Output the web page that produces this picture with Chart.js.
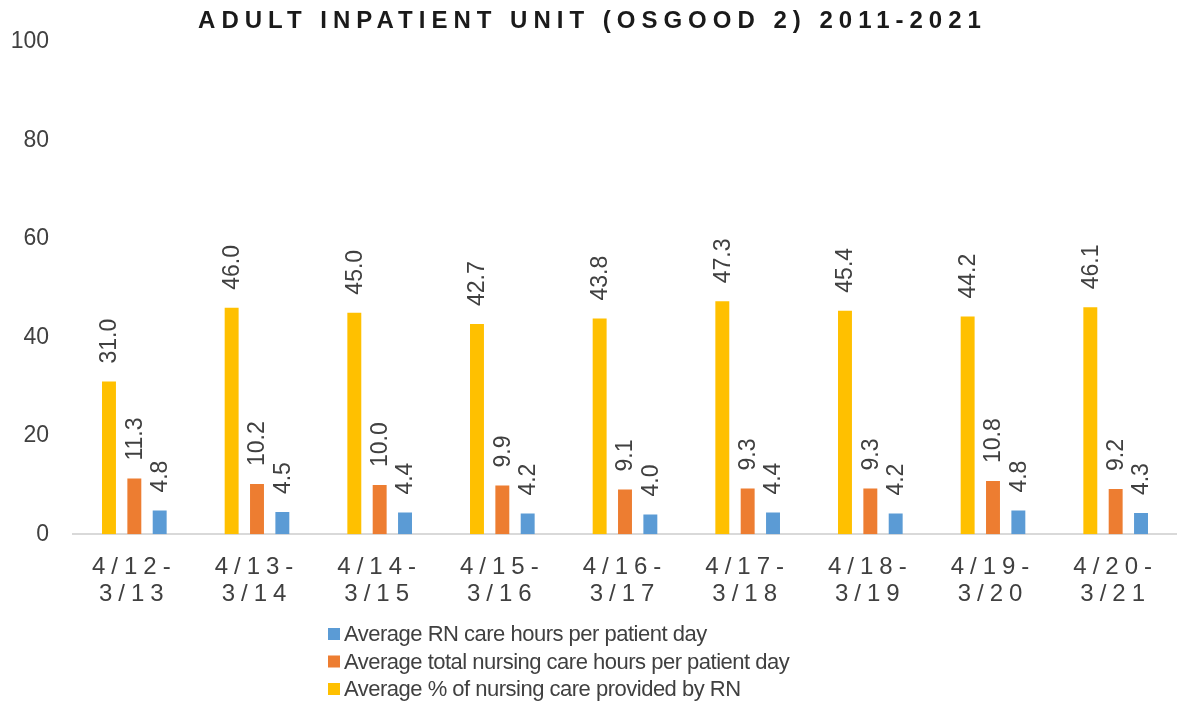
<!DOCTYPE html>
<html lang="en">
<head>
    <meta charset="UTF-8">
    <title>Adult Inpatient Unit (Osgood 2) 2011-2021</title>
    <style>
        body {
            margin: 0;
            background: #ffffff;
        }
        #wrap {
            width: 1177px;
            height: 707px;
        }
    </style>
    <script src="https://cdn.jsdelivr.net/npm/chart.js"></script>
</head>
<body>
    <div id="wrap">
        <canvas id="chart" width="1177" height="707"></canvas>
    </div>

    <script>
        // data
        const periods = [
            ['4/12-', '3/13'], ['4/13-', '3/14'], ['4/14-', '3/15'],
            ['4/15-', '3/16'], ['4/16-', '3/17'], ['4/17-', '3/18'],
            ['4/18-', '3/19'], ['4/19-', '3/20'], ['4/20-', '3/21']
        ];
        const pctByRN = [31.0, 46.0, 45.0, 42.7, 43.8, 47.3, 45.4, 44.2, 46.1];
        const totalHours = [11.3, 10.2, 10.0, 9.9, 9.1, 9.3, 9.3, 10.8, 9.2];
        const rnHours = [4.8, 4.5, 4.4, 4.2, 4.0, 4.4, 4.2, 4.8, 4.3];
        const yTicks = [0, 20, 40, 60, 80, 100];

        const textColor = '#404040';

        // value labels, turned upright above each bar
        const valueLabels = {
            id: 'valueLabels',
            afterDatasetsDraw(chart) {
                const ctx = chart.ctx;
                ctx.save();
                ctx.font = '23px "Liberation Sans", Arial, sans-serif';
                ctx.fillStyle = textColor;
                ctx.textAlign = 'left';
                ctx.textBaseline = 'middle';
                chart.data.datasets.forEach((ds, i) => {
                    chart.getDatasetMeta(i).data.forEach((bar, j) => {
                        ctx.save();
                        ctx.translate(bar.x + 1, bar.y - 18);
                        ctx.rotate(-Math.PI / 2);
                        ctx.fillText(ds.data[j].toFixed(1), 0, 0);
                        ctx.restore();
                    });
                });
                ctx.restore();
            }
        };

        // spaced-out lettering for the title and the period labels
        const spacing = {
            id: 'spacing',
            afterLayout(chart) {
                const sc = chart.scales.x;
                if (!sc._spaced) {
                    const orig = sc.drawLabels.bind(sc);
                    sc.drawLabels = function (area) {
                        this.ctx.save();
                        this.ctx.letterSpacing = '6px';
                        orig(area);
                        this.ctx.restore();
                    };
                    sc._spaced = true;
                }
                const tb = chart.titleBlock;
                if (tb && !tb._spaced) {
                    const origT = tb.draw.bind(tb);
                    tb.draw = function () {
                        this.ctx.save();
                        this.ctx.letterSpacing = '6px';
                        origT();
                        this.ctx.restore();
                    };
                    tb._spaced = true;
                }
            }
        };

        // legend stacked in one column under the chart, in reverse order
        const stackedLegend = {
            id: 'stackedLegend',
            afterDraw(chart) {
                const ctx = chart.ctx;
                const x = 328;
                let y = 634;
                ctx.save();
                ctx.font = '22px "Liberation Sans", Arial, sans-serif';
                ctx.letterSpacing = '-0.5px';
                ctx.textBaseline = 'middle';
                ctx.textAlign = 'left';
                chart.data.datasets.slice().reverse().forEach(ds => {
                    ctx.fillStyle = ds.backgroundColor;
                    ctx.fillRect(x, y - 6, 12, 12);
                    ctx.fillStyle = textColor;
                    ctx.fillText(ds.label, x + 16, y + 1);
                    y += 27.5;
                });
                ctx.restore();
            }
        };

        new Chart(document.getElementById('chart'), {
            type: 'bar',
            data: {
                labels: periods,
                datasets: [
                    {
                        label: 'Average % of nursing care provided by RN',
                        data: pctByRN,
                        backgroundColor: '#FFC000'
                    },
                    {
                        label: 'Average total nursing care hours per patient day',
                        data: totalHours,
                        backgroundColor: '#ED7D31'
                    },
                    {
                        label: 'Average RN care hours per patient day',
                        data: rnHours,
                        backgroundColor: '#5B9BD5'
                    }
                ]
            },
            options: {
                responsive: false,
                animation: false,
                datasets: {
                    bar: {
                        categoryPercentage: 0.62,
                        barPercentage: 0.55
                    }
                },
                layout: {
                    padding: { left: 8, right: 0, top: 0, bottom: 87 }
                },
                plugins: {
                    legend: { display: false },
                    tooltip: { enabled: false },
                    title: {
                        display: true,
                        text: 'ADULT INPATIENT UNIT (OSGOOD 2) 2011-2021',
                        color: '#1a1a1a',
                        font: { family: '"Liberation Sans", Arial, sans-serif', size: 24, weight: 'bold' },
                        padding: { top: 7, bottom: 6 }
                    }
                },
                scales: {
                    x: {
                        grid: { display: false },
                        border: { color: '#D9D9D9', width: 2 },
                        ticks: {
                            color: textColor,
                            maxRotation: 0,
                            padding: 12,
                            font: { family: '"Liberation Sans", Arial, sans-serif', size: 24, lineHeight: 1.12 }
                        }
                    },
                    y: {
                        min: 0,
                        max: 100,
                        afterBuildTicks(scale) {
                            scale.ticks = yTicks.map(v => ({ value: v }));
                        },
                        afterFit(scale) {
                            scale.width = 65;
                        },
                        grid: { display: false, drawTicks: false },
                        border: { display: false },
                        ticks: {
                            color: textColor,
                            padding: 24,
                            font: { family: '"Liberation Sans", Arial, sans-serif', size: 23 }
                        }
                    }
                }
            },
            plugins: [valueLabels, spacing, stackedLegend]
        });
    </script>
</body>
</html>
